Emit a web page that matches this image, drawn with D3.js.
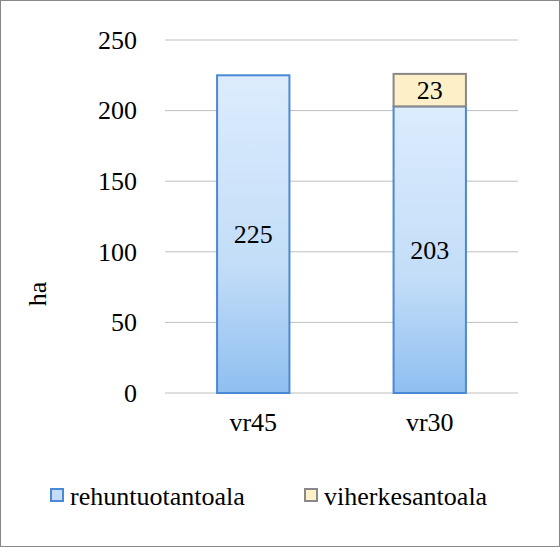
<!DOCTYPE html>
<html><head><meta charset="utf-8">
<script src="https://cdn.jsdelivr.net/npm/d3@7"></script>
<style>body{margin:0;background:#fff}</style>
</head><body>
<script>
var categories = ["vr45", "vr30"];
var seriesNames = ["rehuntuotantoala", "viherkesantoala"];
var rehuntuotantoala = [225, 203];
var viherkesantoala = [0, 23];
var yTicks = [0, 50, 100, 150, 200, 250];

var W = 560, H = 547;
var svg = d3.select("body").append("svg").attr("width", W).attr("height", H);
var font = "Liberation Serif, Times New Roman, serif";
var fs = 26;

var defs = svg.append("defs");
var grad = defs.append("linearGradient").attr("id", "blueGrad")
    .attr("x1", 0).attr("y1", 0).attr("x2", 0).attr("y2", 1);
grad.append("stop").attr("offset", "0%").attr("stop-color", "#dcecfd");
grad.append("stop").attr("offset", "60%").attr("stop-color", "#c3ddf8");
grad.append("stop").attr("offset", "100%").attr("stop-color", "#8fbff0");

svg.append("rect").attr("x", 0.5).attr("y", 0.5).attr("width", W - 1).attr("height", H - 1)
    .attr("fill", "#fff").attr("stroke", "#888");

var x = d3.scaleBand().domain(categories).range([165, 518]).paddingInner(0.59).paddingOuter(0.295);
var y = d3.scaleLinear().domain([0, 250]).range([393, 40]);

svg.append("g").selectAll(".grid").data(yTicks).enter().append("line")
    .attr("x1", 165).attr("x2", 518)
    .attr("y1", function (d) { return y(d); }).attr("y2", function (d) { return y(d); })
    .attr("stroke", "#bfbfbf").attr("stroke-width", 1);

var yAxis = svg.append("g").attr("transform", "translate(165,0)")
    .call(d3.axisLeft(y).tickValues(yTicks).tickSize(0).tickPadding(28));
yAxis.select(".domain").remove();
yAxis.selectAll("text").attr("font-family", font).attr("font-size", fs).attr("fill", "#000");

var xAxis = svg.append("g").attr("transform", "translate(0,393)")
    .call(d3.axisBottom(x).tickSize(0).tickPadding(20));
xAxis.select(".domain").remove();
xAxis.selectAll("text").attr("font-family", font).attr("font-size", fs).attr("fill", "#000");

svg.append("text").attr("transform", "translate(46,294) rotate(-90)")
    .attr("text-anchor", "middle").attr("font-family", font).attr("font-size", fs).text("ha");

categories.forEach(function (c, i) {
    var a = rehuntuotantoala[i], b = viherkesantoala[i];
    svg.append("rect").attr("x", x(c)).attr("y", y(a)).attr("width", x.bandwidth())
        .attr("height", y(0) - y(a)).attr("fill", "url(#blueGrad)")
        .attr("stroke", "#4a8ad4").attr("stroke-width", 2);
    svg.append("text").attr("x", x(c) + x.bandwidth() / 2).attr("y", (y(a) + y(0)) / 2 + 9)
        .attr("text-anchor", "middle").attr("font-family", font).attr("font-size", fs).text(a);
    if (b > 0) {
        svg.append("rect").attr("x", x(c)).attr("y", y(a + b)).attr("width", x.bandwidth())
            .attr("height", y(a) - y(a + b)).attr("fill", "#fdf0c8")
            .attr("stroke", "#888").attr("stroke-width", 2);
        svg.append("text").attr("x", x(c) + x.bandwidth() / 2).attr("y", (y(a + b) + y(a)) / 2 + 9)
            .attr("text-anchor", "middle").attr("font-family", font).attr("font-size", fs).text(b);
    }
});

var legend = [{ name: seriesNames[0], fill: "#c3ddf8", stroke: "#4a8ad4", x: 51 },
              { name: seriesNames[1], fill: "#fdf0c8", stroke: "#888", x: 305 }];
legend.forEach(function (l) {
    svg.append("rect").attr("x", l.x).attr("y", 489).attr("width", 12).attr("height", 12)
        .attr("fill", l.fill).attr("stroke", l.stroke).attr("stroke-width", 2);
    svg.append("text").attr("x", l.x + 19).attr("y", 505).attr("font-family", font)
        .attr("font-size", fs).text(l.name);
});
</script>
</body></html>
